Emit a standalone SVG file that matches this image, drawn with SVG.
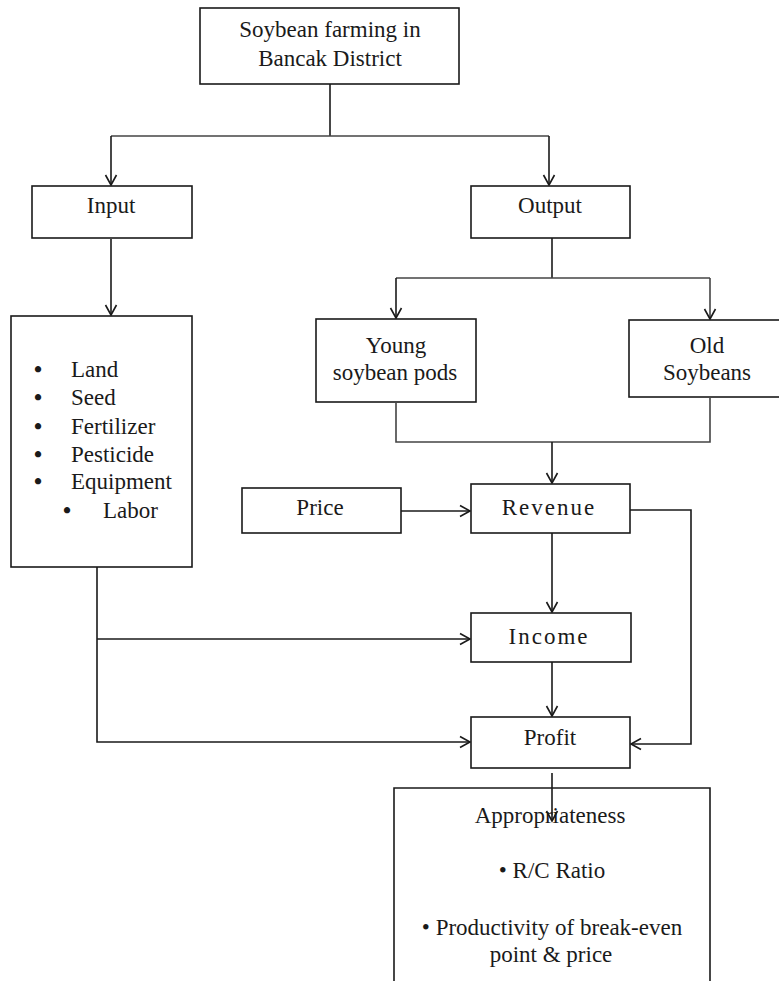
<svg xmlns="http://www.w3.org/2000/svg" width="779" height="981" viewBox="0 0 779 981">
<style>
.box{fill:#fff;stroke:#1a1a1a;stroke-width:1.6}
.t{font-family:"Liberation Serif","Times New Roman",serif;font-size:23px;fill:#1a1a1a}
.c{text-anchor:middle}
.sp{letter-spacing:2px}
.b{font-weight:bold}
.ln{fill:none;stroke:#1a1a1a;stroke-width:1.6}
.lg{fill:none;stroke:#444;stroke-width:1.6}
</style>
<defs>
<marker id="ah" markerWidth="14" markerHeight="14" refX="11" refY="7" orient="auto" markerUnits="userSpaceOnUse">
<path d="M1,1.5 L11,7 L1,12.5" fill="none" stroke="#1a1a1a" stroke-width="1.6"/>
</marker>
</defs>
<rect width="779" height="981" fill="#fff"/>
<g id="connectors">
<path class="ln" d="M330,84 V136"/>
<path class="lg" d="M111,136 H549"/>
<path class="ln" d="M111,136 V185" marker-end="url(#ah)"/>
<path class="ln" d="M549,136 V185" marker-end="url(#ah)"/>
<path class="ln" d="M111,239 V315" marker-end="url(#ah)"/>
<path class="ln" d="M552,238 V278"/>
<path class="lg" d="M396,278 H710"/>
<path class="ln" d="M396,278 V318" marker-end="url(#ah)"/>
<path class="lg" d="M710,278 V319" marker-end="url(#ah)"/>
<path class="lg" d="M396,403 V442 H710 V398"/>
<path class="ln" d="M552,442 V483" marker-end="url(#ah)" stroke-width="2"/>
<path class="ln" d="M401,511 H470" marker-end="url(#ah)"/>
<path class="ln" d="M630,510 H691 V744 H631" marker-end="url(#ah)"/>
<path class="ln" d="M552,533 V612" marker-end="url(#ah)"/>
<path class="ln" d="M552,662 V716" marker-end="url(#ah)"/>
<path class="ln" d="M97,514 V742 H470" marker-end="url(#ah)"/>
<path class="ln" d="M97,639 H470" marker-end="url(#ah)"/>
</g>
<g id="top">
<rect class="box" x="200" y="8" width="259" height="76"/>
<text class="t c" x="330" y="37">Soybean farming in</text>
<text class="t c" x="330" y="66">Bancak District</text>
</g>
<g id="input">
<rect class="box" x="32" y="186" width="160" height="52"/>
<text class="t c" x="111" y="213">Input</text>
</g>
<g id="output">
<rect class="box" x="471" y="186" width="159" height="52"/>
<text class="t c" x="550" y="213">Output</text>
</g>
<g id="inputs-list">
<rect class="box" x="11" y="316" width="181" height="251"/>
<text class="t b" x="34" y="377">•</text><text class="t" x="71" y="377">Land</text>
<text class="t b" x="34" y="405">•</text><text class="t" x="71" y="405">Seed</text>
<text class="t b" x="34" y="434">•</text><text class="t" x="71" y="434">Fertilizer</text>
<text class="t b" x="34" y="462">•</text><text class="t" x="71" y="462">Pesticide</text>
<text class="t b" x="34" y="489">•</text><text class="t" x="71" y="489">Equipment</text>
<text class="t b" x="63" y="518">•</text><text class="t" x="103" y="518">Labor</text>
</g>
<g id="young">
<rect class="box" x="316" y="319" width="160" height="83"/>
<text class="t c" x="396" y="353">Young</text>
<text class="t c" x="395" y="380">soybean pods</text>
</g>
<g id="old">
<rect class="box" x="629" y="320" width="160" height="77"/>
<text class="t c" x="707" y="353">Old</text>
<text class="t c" x="707" y="380">Soybeans</text>
</g>
<g id="price">
<rect class="box" x="242" y="488" width="159" height="45"/>
<text class="t c" x="320" y="515">Price</text>
</g>
<g id="revenue">
<rect class="box" x="471" y="484" width="159" height="49"/>
<text class="t c sp" x="549" y="515">Revenue</text>
</g>
<g id="income">
<rect class="box" x="471" y="613" width="160" height="49"/>
<text class="t c sp" x="549" y="644">Income</text>
</g>
<g id="profit">
<rect class="box" x="471" y="717" width="159" height="51"/>
<text class="t c" x="550" y="745">Profit</text>
</g>
<g id="appropriateness">
<path class="box" d="M394,990 V788 H710 V990"/>
<text class="t c" x="550" y="823">Appropriateness</text>
<text class="t c" x="552" y="878">• R/C Ratio</text>
<text class="t c" x="552" y="935">• Productivity of break-even</text>
<text class="t c" x="551" y="962">point &amp; price</text>
</g>
<path class="ln" d="M552,773 V821" marker-end="url(#ah)"/>
</svg>
